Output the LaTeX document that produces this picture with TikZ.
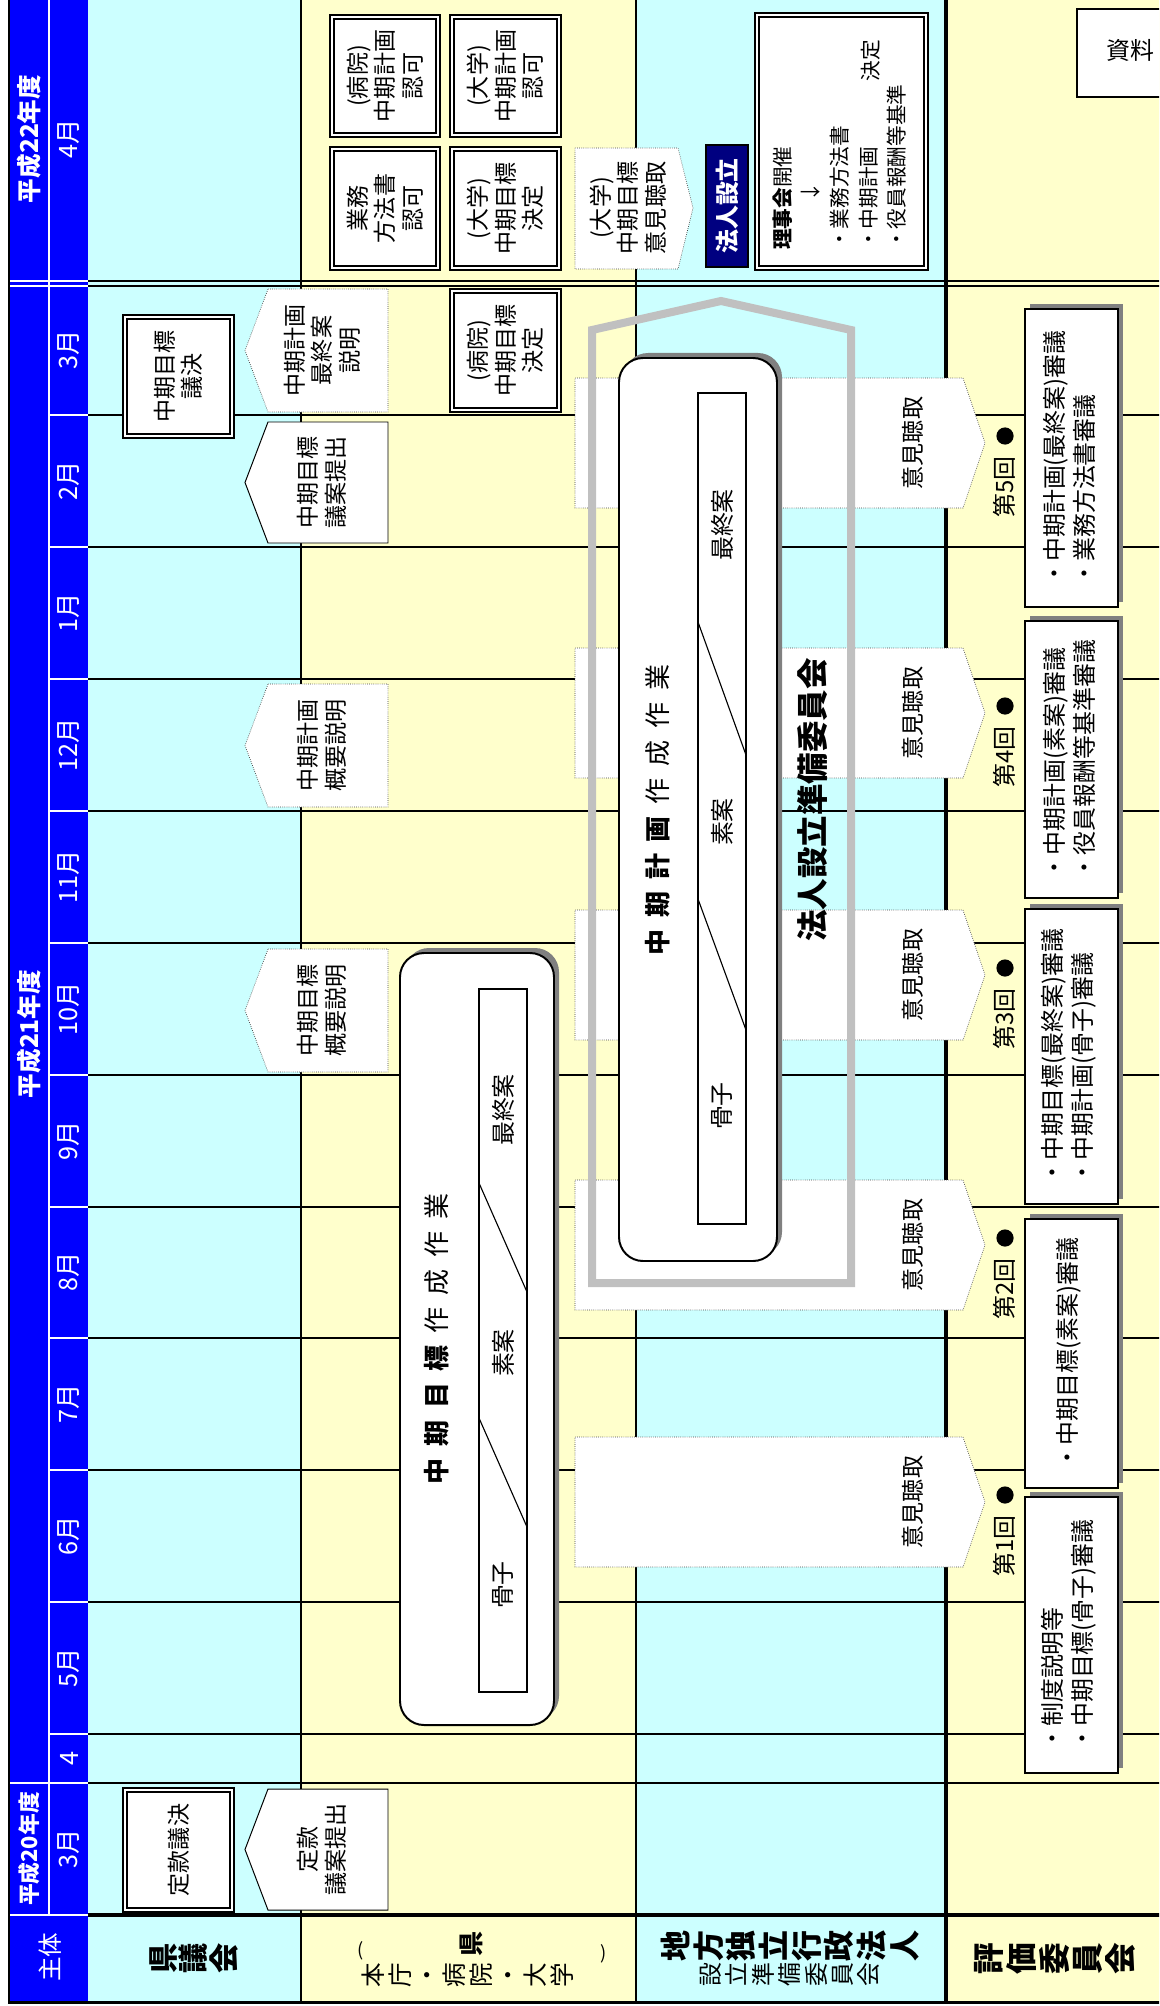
\documentclass[tikz,border=0pt]{standalone}
\usepackage{fontspec}
\setmainfont{Noto Sans CJK JP}
\definecolor{Sky}{HTML}{CCFFFF}
\definecolor{Cream}{HTML}{FFFFCC}
\definecolor{Royal}{HTML}{0000FF}
\definecolor{Navy}{HTML}{000080}
\definecolor{Silver}{HTML}{C0C0C0}
\definecolor{Shade}{HTML}{808080}
\newcommand\kgap{\hspace{8.5pt}}

\begin{document}
\begin{tikzpicture}[x=.25mm,y=-.25mm,
    lbl/.style={rotate=90,inner sep=0pt,align=center,font=\fontsize{16.4}{19.6}\selectfont},
    boardtxt/.style={lbl,font=\fontsize{14.7}{20.3}\selectfont},
    review/.style={lbl,align=left,font=\fontsize{17}{21.3}\selectfont},
    phase/.style={lbl,font=\fontsize{17}{18}\selectfont},
    month/.style={lbl,text=white,font=\fontsize{18}{19}\selectfont},
    fyear/.style={lbl,text=white,font=\bfseries\fontsize{17.5}{19}\selectfont},
    dbl/.style={draw,fill=white,line width=1.5pt,double=white,double distance=1.3pt},
    dotline/.style={draw=black!75,fill=white,densely dotted,line width=.5pt},
    fullline/.style={draw,fill=white,line width=.7pt}]
    \useasboundingbox (0,0) rectangle (1159,2006);
    \clip (0,0) rectangle (1159,2006);
    \fill[white] (0,0) rectangle (1159,2006);
    % columns
    \fill[Sky] (88,0) rectangle (301,2002);
    \fill[Cream] (301,0) rectangle (636,2002);
    \fill[Sky] (636,0) rectangle (946,2002);
    \fill[Cream] (946,0) rectangle (1165,2002);
    \fill[Royal] (10,0) rectangle (88,2002);
    % grid
    \foreach \yy in {415,547,679,811,943,1075,1207,1338,1470,1602,1734}{
      \draw[white,line width=1.2pt] (49,\yy) -- (88,\yy);
      \draw[line width=.9pt] (88,\yy) -- (1165,\yy);
    }
    \draw[white,line width=1.4pt] (49,0) -- (49,1915);
    \foreach \yy in {281,286}{
      \draw[white,line width=1.2pt] (10,\yy) -- (88,\yy);
      \draw[line width=1.9pt] (88,\yy) -- (1165,\yy);
    }
    \draw[white,line width=1.2pt] (10,1783) -- (88,1783) (10,1915) -- (88,1915);
    \draw[line width=1.7pt] (88,1783) -- (1165,1783);
    \draw[line width=2.3pt] (88,1915) -- (1165,1915);
    \draw[line width=2.1pt] (301,0) -- (301,2002) (636,0) -- (636,2002);
    \draw[line width=3.5pt] (946,0) -- (946,2002);
    \draw[line width=2.1pt] (9,0) -- (9,2002) -- (1165,2002);
    % header
    \foreach \yy/\mm [count=\i] in {350/3月,481/2月,613/1月,745/12月,877/11月,1009/10月,1141/9月,1272/8月,1404/7月,1536/6月,1668/5月,1758/4}
      \node[month] (mon\i) at (69,\yy) {\mm};
    \node[month] (mon0) at (69,139) {4月};
    \node[month] (mon13) at (69,1849) {3月};
    \node[fyear] (fy22) at (29,139) {平成22年度};
    \node[fyear] (fy21) at (29,1034) {平成21年度};
    \node[fyear,font=\bfseries\fontsize{15.5}{17}\selectfont] (fy20) at (29,1849) {平成20年度};
    \node[month,font=\fontsize{17.5}{18}\selectfont] (subj) at (50,1957) {主体};
    \node[lbl,font=\bfseries\fontsize{21.5}{22}\selectfont] (council) at (194,1958) {県\\議\\会};
    \node[lbl,font=\bfseries\fontsize{17.8}{19}\selectfont] (pref) at (471,1944) {県};
    \node[inner sep=0pt,font=\fontsize{13}{14}\selectfont] (lpar) at (361,1951) {(};
    \node[inner sep=0pt,font=\fontsize{13}{14}\selectfont] (rpar) at (604,1954) {)};
    \node[lbl,font=\fontsize{17.5}{19.2}\selectfont] (prefsub) at (468,1975) {本\\庁\\・\\病\\院\\・\\大\\学};
    \node[lbl,font=\bfseries\fontsize{22}{23.2}\selectfont] (corp) at (790,1946) {地\\方\\独\\立\\行\\政\\法\\人};
    \node[lbl,font=\fontsize{17}{18.8}\selectfont] (corpsub) at (790,1975) {設\\立\\準\\備\\委\\員\\会};
    \node[lbl,font=\bfseries\fontsize{22.5}{23.5}\selectfont] (evalc) at (1055,1959) {評\\価\\委\\員\\会};
    % prefecture to assembly
    \foreach \ya/\yb/\edge/\txt [count=\i] in {289/412/dotline/{中期計画\\最終案\\説明},422/543/fullline/{中期目標\\議案提出},684/807/dotline/{中期計画\\概要説明},949/1072/dotline/{中期目標\\概要説明},1789/1910/fullline/{定款\\議案提出}}{
      \draw[\edge] (268,\ya) -- (388,\ya) -- (388,\yb) -- (268,\yb) -- (245,{(\ya+\yb)/2}) -- cycle;
      \node[lbl] (bill\i) at (322,{(\ya+\yb)/2}) {\txt};
    }
    % hearings
    \foreach \ym [count=\i] in {443,713,975,1245,1502}{
      \draw[dotline] (575,\ym-65) -- (963,\ym-65) -- (985,\ym) -- (963,\ym+65) -- (575,\ym+65) -- cycle;
      \node[lbl] (hear\i) at (913,\ym) {意見聴取};
    }
    \draw[dotline] (575,148) -- (678,148) -- (693,208) -- (678,269) -- (575,269) -- cycle;
    \node[lbl] (hear0) at (628,208) {(大学)\\中期目標\\意見聴取};
    % decisions
    \draw[dbl] (332,17) rectangle (438,135);
    \node[lbl] (okA) at (385,76) {(病院)\\中期計画\\認可};
    \draw[dbl] (452,17) rectangle (559,135);
    \node[lbl] (okB) at (505.5,76) {(大学)\\中期計画\\認可};
    \draw[dbl] (332,149) rectangle (438,268);
    \node[lbl] (okC) at (385,208.5) {業務\\方法書\\認可};
    \draw[dbl] (452,149) rectangle (559,268);
    \node[lbl] (okD) at (505.5,208.5) {(大学)\\中期目標\\決定};
    \draw[dbl] (452,291) rectangle (559,410);
    \node[lbl] (okE) at (505.5,350.5) {(病院)\\中期目標\\決定};
    \draw[dbl] (125,317) rectangle (232,436);
    \node[lbl] (vote1) at (178.5,376.5) {中期目標\\議決};
    \draw[dbl] (125,1790) rectangle (232,1910);
    \node[lbl] (vote2) at (178.5,1850) {定款議決};
    \draw[fill=Navy,line width=.8pt] (706,145) rectangle (748,267);
    \node[lbl,text=white,font=\bfseries\fontsize{17}{18}\selectfont] (found) at (727,206) {法人設立};
    \draw[dbl] (757,15) rectangle (926,268);
    \node[boardtxt,align=left,anchor=west] (board) at (839.5,250) {\textbf{理事会}開催\\\hspace*{2.3em}↓\\・業務方法書\\・中期計画\\・役員報酬等基準};
    \node[boardtxt,anchor=east] (decide) at (871,40) {決定};
    \draw[fill=white,line width=1.4pt] (1077,9) rectangle (1175,97);
    \node[anchor=west,inner sep=0pt,font=\fontsize{17}{19}\selectfont] (doc) at (1106,50) {資料};
    % preparatory committee
    \draw[Silver,line width=5.7pt] (592,1283) -- (592,330) -- (721,301) -- (851,330) -- (851,1283) -- cycle;
    \fill[Shade,rounded corners=6mm] (405,948) rectangle (559,1720);
    \draw[fill=white,line width=1.4pt,rounded corners=6mm] (400,953) rectangle (554,1725);
    \draw[fill=white,line width=1.1pt] (479,989) rectangle (527,1692);
    \draw[line width=.8pt] (479,1183) -- (527,1292) (479,1418) -- (527,1527);
    \node[phase] (goal3) at (503,1110) {最終案};
    \node[phase] (goal2) at (503,1353) {素案};
    \node[phase] (goal1) at (503,1585) {骨子};
    \node[lbl,font=\fontsize{18.5}{20}\selectfont] (goalwork) at (437,1339) {\textbf{中\kgap 期\kgap 目\kgap 標}\kgap 作\kgap 成\kgap 作\kgap 業};
    \fill[Shade,rounded corners=6mm] (624,353) rectangle (782,1256);
    \draw[fill=white,line width=1.4pt,rounded corners=6mm] (619,358) rectangle (777,1261);
    \draw[fill=white,line width=1.1pt] (698,393) rectangle (746,1224);
    \draw[line width=.8pt] (698,622) -- (746,755) (698,899) -- (746,1030);
    \node[phase] (plan3) at (722,525) {最終案};
    \node[phase] (plan2) at (722,822) {素案};
    \node[phase] (plan1) at (722,1106) {骨子};
    \node[lbl,font=\fontsize{18.5}{20}\selectfont] (planwork) at (658,810) {\textbf{中\kgap 期\kgap 計\kgap 画}\kgap 作\kgap 成\kgap 作\kgap 業};
    \node[lbl,font=\bfseries\fontsize{22.4}{24}\selectfont] (prep) at (813,800) {法人設立準備委員会};
    % evaluation committee
    \foreach \ya/\yb/\txt [count=\i] in {309/607/{・中期計画(最終案)審議\\・業務方法書審議},621/898/{・中期計画(素案)審議\\・役員報酬等基準審議},909/1204/{・中期目標(最終案)審議\\・中期計画(骨子)審議},1219/1488/{・中期目標(素案)審議},1497/1773/{・制度説明等\\・中期目標(骨子)審議}}{
      \fill[Shade] (1030,\ya-5) rectangle (1123,\yb-5);
      \draw[fill=white,line width=1.3pt] (1025,\ya) rectangle (1118,\yb);
      \node[review] (eval\i) at (1069,{(\ya+\yb)/2}) {\txt};
    }
    \foreach \ym/\no [count=\i] in {443/5,713/4,975/3,1245/2,1502/1}{
      \node[circle,fill,inner sep=0pt,minimum size=4.3mm] (dot\i) at (1005,\ym-7) {};
      \node[lbl,font=\fontsize{17}{18}\selectfont,anchor=east] (round\i) at (1004,\ym+13) {第\no 回};
    }
\end{tikzpicture}
\end{document}
